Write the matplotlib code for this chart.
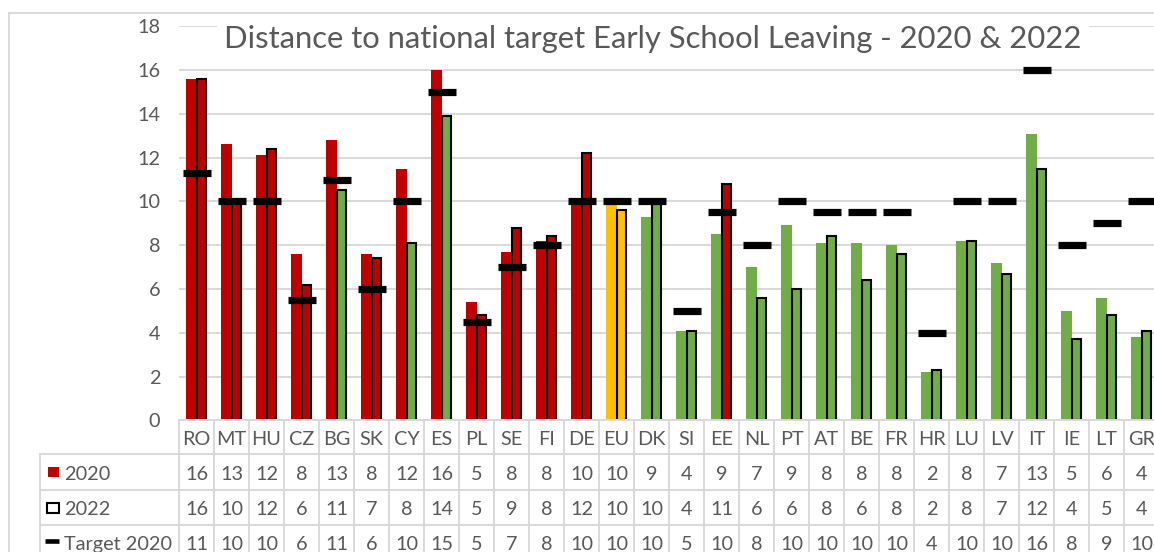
"""
Distance to national target - Early School Leaving, 2020 & 2022
Bar chart with an Excel-style data table underneath
"""

import numpy as np
import matplotlib
matplotlib.use('Agg')
import matplotlib.pyplot as plt
from matplotlib.transforms import blended_transform_factory
from matplotlib.patches import Rectangle
from matplotlib.lines import Line2D

# Data
countries = ['RO', 'MT', 'HU', 'CZ', 'BG', 'SK', 'CY', 'ES', 'PL', 'SE', 'FI', 'DE', 'EU', 'DK',
             'SI', 'EE', 'NL', 'PT', 'AT', 'BE', 'FR', 'HR', 'LU', 'LV', 'IT', 'IE', 'LT', 'GR']
esl_2020 = [15.6, 12.6, 12.1, 7.6, 12.8, 7.6, 11.5, 16.0, 5.4, 7.7, 8.2, 10.1, 9.9, 9.3,
            4.1, 8.5, 7.0, 8.9, 8.1, 8.1, 8.0, 2.2, 8.2, 7.2, 13.1, 5.0, 5.6, 3.8]
esl_2022 = [15.6, 10.1, 12.4, 6.2, 10.5, 7.4, 8.1, 13.9, 4.8, 8.8, 8.4, 12.2, 9.6, 9.9,
            4.1, 10.8, 5.6, 6.0, 8.4, 6.4, 7.6, 2.3, 8.2, 6.7, 11.5, 3.7, 4.8, 4.1]
target_2020 = [11.3, 10, 10, 5.5, 11, 6, 10, 15, 4.5, 7, 8, 10, 10, 10,
               5, 9.5, 8, 10, 9.5, 9.5, 9.5, 4, 10, 10, 16, 8, 9, 10]
row_labels = ['2020', '2022', 'Target 2020']
title = 'Distance to national target Early School Leaving - 2020 & 2022'

RED = '#C00000'
GREEN = '#70AD47'
YELLOW = '#FFC000'
GRID = '#D9D9D9'
TEXT = '#595959'

plt.rcParams['font.family'] = ['Lato', 'DejaVu Sans']


def bar_colour(code, value, target):
    # above target -> red, at/below target -> green, EU average in yellow
    if code == 'EU':
        return YELLOW
    return RED if value > target else GREEN


def half_up(v):
    return int(np.floor(v + 0.5))


W, H = 1154, 552
fig = plt.figure(figsize=(W / 100, H / 100), dpi=100)


def fx(px):
    return px / W


def fy(py):
    return 1 - py / H


# plot area: x from 179px (35px per country), y=0 at 420.4px, y=18 at 26.2px
ax = fig.add_axes([fx(179), fy(420.4), 980 / W, 394.2 / H])

x = np.arange(len(countries))
c2020 = [bar_colour(c, v, t) for c, v, t in zip(countries, esl_2020, target_2020)]
c2022 = [bar_colour(c, v, t) for c, v, t in zip(countries, esl_2022, target_2020)]

ax.bar(x - 0.15, esl_2020, width=0.3, color=c2020, zorder=2)
ax.bar(x + 0.145, esl_2022, width=0.24, color=c2022, edgecolor='black',
       linewidth=1.5, zorder=2)
ax.plot(x, target_2020, ls='none', marker='_', markersize=19.5, markeredgewidth=5.2,
        color='black', zorder=3)

ax.set_xlim(-0.5, len(countries) - 0.5)
ax.set_ylim(0, 18)
ax.set_yticks(range(0, 19, 2))
ax.set_xticks([])
ax.yaxis.grid(True, color=GRID, linewidth=1.4)
ax.set_axisbelow(True)
ax.tick_params(axis='y', length=0, pad=13.5, labelsize=14.3, labelcolor=TEXT)
for s in ax.spines.values():
    s.set_visible(False)

# title sits on a white box that hides the top gridline
fig.text(fx(653), fy(39), title, ha='center', va='center', fontsize=22.3, color=TEXT,
         bbox=dict(facecolor='white', edgecolor='none', boxstyle='square,pad=0.25'))

# data table below the axis
bt = blended_transform_factory(ax.transData, fig.transFigure)
row_lines = [454, 490, 525]
line_kw = dict(color=GRID, linewidth=1.4)

fig.add_artist(Line2D([-0.5, len(countries) - 0.5], [fy(420.4)] * 2, transform=bt, **line_kw))
for ry in row_lines:
    fig.add_artist(Line2D([fx(39.5), 1.0], [fy(ry)] * 2, transform=fig.transFigure, **line_kw))
fig.add_artist(Line2D([fx(39.5)] * 2, [fy(454), 0], transform=fig.transFigure, **line_kw))
for i in range(len(countries) + 1):
    fig.add_artist(Line2D([i - 0.5] * 2, [fy(420.4), 0], transform=bt, **line_kw))

cell_kw = dict(ha='center', va='baseline', fontsize=14.3, color=TEXT, transform=bt)
for i, code in enumerate(countries):
    fig.text(i, fy(445), code, **cell_kw)
    fig.text(i, fy(479.5), str(half_up(esl_2020[i])), **cell_kw)
    fig.text(i, fy(515), str(half_up(esl_2022[i])), **cell_kw)
    fig.text(i, fy(550), str(half_up(target_2020[i])), **cell_kw)

# row headers with legend keys
fig.add_artist(Rectangle((fx(47.7), fy(477.3)), 11.3 / W, 10.6 / H,
                         facecolor=RED, edgecolor='none', transform=fig.transFigure))
fig.add_artist(Rectangle((fx(47), fy(513)), 12 / W, 10.5 / H, facecolor='white',
                         edgecolor='black', linewidth=1.5, transform=fig.transFigure))
fig.add_artist(Line2D([fx(45), fx(59)], [fy(541)] * 2, color='black', linewidth=3.3,
                      solid_capstyle='butt', transform=fig.transFigure))
for label, base in zip(row_labels, [479.5, 515, 550]):
    fig.text(fx(64.3), fy(base), label, ha='left', va='baseline', fontsize=14.3,
             color=TEXT)

# chart area border (right and bottom edges fall outside the picture)
fig.add_artist(Line2D([fx(8.5), 1.0], [fy(13)] * 2, transform=fig.transFigure, **line_kw))
fig.add_artist(Line2D([fx(8.5)] * 2, [fy(13), 0], transform=fig.transFigure, **line_kw))

fig.savefig('out.png', dpi=100)
plt.close(fig)
